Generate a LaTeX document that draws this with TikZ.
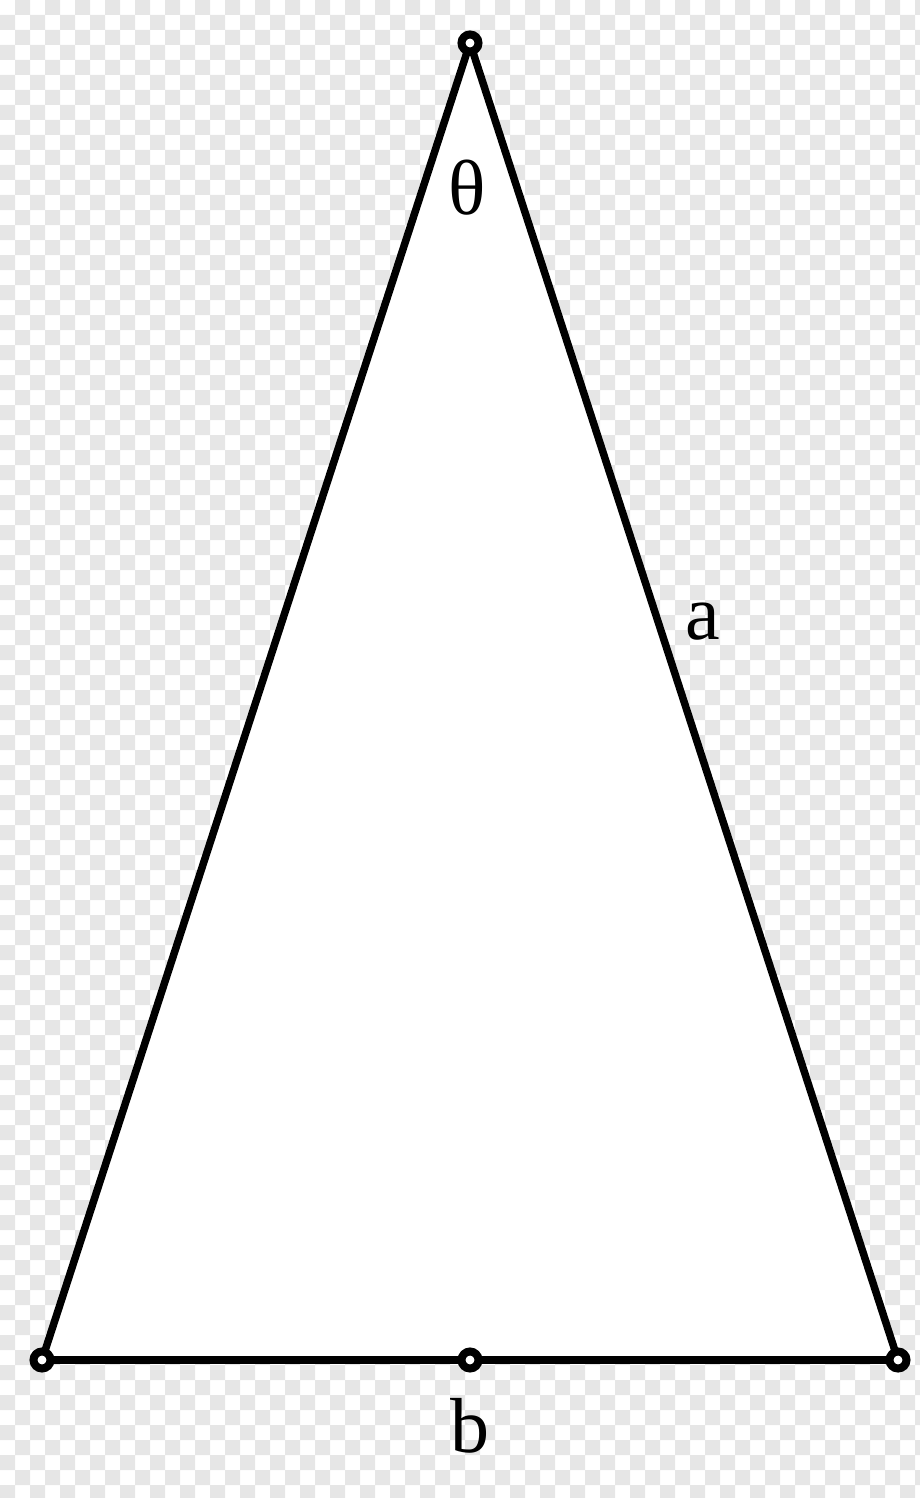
\documentclass[tikz,border=0pt]{standalone}
\usepackage{fontspec}
\setmainfont{Liberation Serif}
\definecolor{checkgray}{HTML}{E6E6E6}
\tikzset{
  vertex/.style={circle, draw=black, fill=white, line width=8pt, minimum size=17pt, inner sep=0pt},
  side/.style={line width=7.5pt, line join=miter},
  lbl/.style={font=\fontsize{78}{80}\selectfont, inner sep=0pt}
}
\begin{document}
\begin{tikzpicture}[x=1pt, y=-1pt]
  \useasboundingbox (0,0) rectangle (920,1498);
  % transparency checkerboard
  \begin{scope}
    \clip (0,0) rectangle (920,1498);
    \fill[checkgray, even odd rule]
      \foreach \i in {1,3,...,61} { (\i*15,0) rectangle (\i*15+15,1498) }
      \foreach \j in {1,3,...,99} { (0,\j*15) rectangle (920,\j*15+15) };
  \end{scope}
  \coordinate (T) at (470,43);
  \coordinate (L) at (42,1360);
  \coordinate (R) at (898,1360);
  \coordinate (M) at (470,1360);
  \fill[white] (T) -- (R) -- (L) -- cycle;
  \draw[side] (L) -- (T) -- (R);
  \draw[side] (L) -- (R);
  \node[vertex] (vT) at (T) {};
  \node[vertex] (vL) at (L) {};
  \node[vertex] (vR) at (R) {};
  \node[vertex] (vM) at (M) {};
  \node[lbl] (theta) at (467,188) {θ};
  \node[lbl] (la) at (703,622) {a};
  \node[lbl] (lb) at (470,1426) {b};
\end{tikzpicture}
\end{document}
